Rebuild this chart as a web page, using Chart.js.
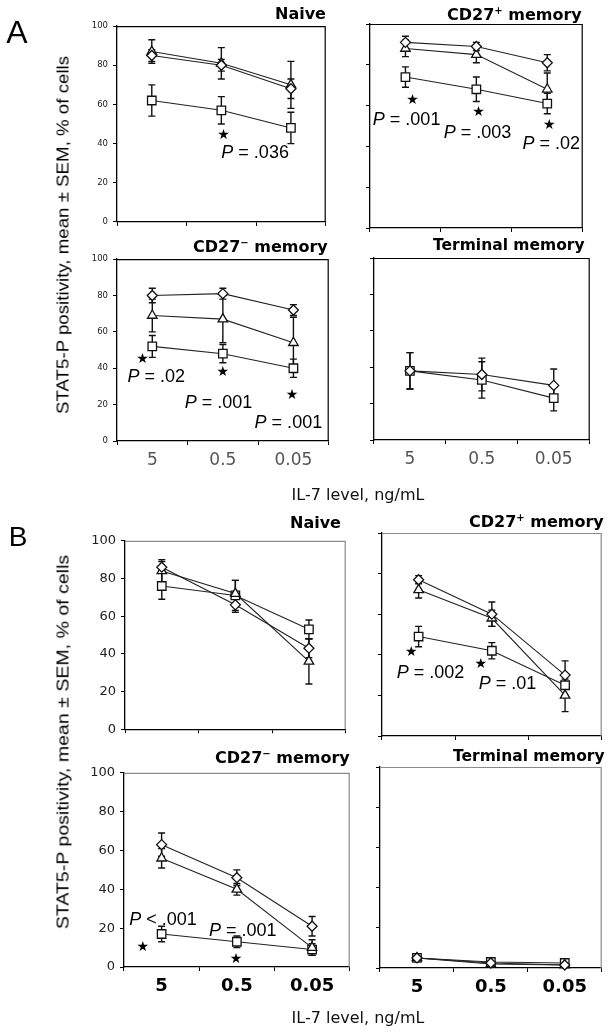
<!DOCTYPE html>
<html>
<head>
<meta charset="utf-8">
<script src="https://cdn.jsdelivr.net/npm/chart.js@4.4.0/dist/chart.umd.min.js"></script>
<style>
  body { margin: 0; background: #fff; }
  #page { position: relative; width: 616px; height: 1034px; overflow: hidden; background: #fff; }
  canvas { position: absolute; }
  .txt { position: absolute; white-space: nowrap; line-height: 1; color: #111; font-family: "DejaVu Sans", sans-serif; z-index: 5; will-change: transform; }
  .ytl { font-family: "Liberation Sans", Arial, sans-serif; font-size: 17px; color: #000; }
  .ttl { font-weight: bold; font-size: 16px; color: #000; }
  .ttl sup { font-size: 10px; vertical-align: 6px; }
</style>
</head>
<body>
<div id="page">
  <div class="txt" style="left:16.5px;top:31.5px;transform:translate(-50%,-50%);font-family:'Liberation Sans',Arial;font-size:32px;color:#000">A</div>
  <div class="txt" style="left:17.5px;top:537px;transform:translate(-50%,-50%);font-family:'Liberation Sans',Arial;font-size:28px;color:#000">B</div>

  <div class="txt ytl" style="left:63px;top:235px;transform:translate(-50%,-50%) rotate(-90deg) scaleX(1.1)">STAT5-P positivity, mean ± SEM, % of cells</div>
  <div class="txt ytl" style="left:63px;top:742px;transform:translate(-50%,-50%) rotate(-90deg) scaleX(1.15)">STAT5-P positivity, mean ± SEM, % of cells</div>
  <div class="txt" style="left:358px;top:495px;transform:translate(-50%,-50%);font-size:16px">IL-7 level, ng/mL</div>
  <div class="txt" style="left:358px;top:1018px;transform:translate(-50%,-50%);font-size:16px">IL-7 level, ng/mL</div>

  <div class="txt ttl" style="right:290px;top:6px">Naive</div>
  <div class="txt ttl" style="right:34px;top:6px">CD27<sup>+</sup> memory</div>
  <div class="txt ttl" style="right:288px;top:238px">CD27<sup>−</sup> memory</div>
  <div class="txt ttl" style="right:31px;top:238px;font-size:15.5px">Terminal memory</div>
  <div class="txt ttl" style="right:275px;top:515px">Naive</div>
  <div class="txt ttl" style="right:12px;top:513px">CD27<sup>+</sup> memory</div>
  <div class="txt ttl" style="right:266px;top:749px">CD27<sup>−</sup> memory</div>
  <div class="txt ttl" style="right:11px;top:749px;font-size:15.5px">Terminal memory</div>
</div>

<script>
// IL-7 dose categories
const doses = ['5', '0.5', '0.05'];
const yTicks = [0, 20, 40, 60, 80, 100];

// Panel A
const aNaiveDiamond = [85, 80, 68];
const aNaiveDiamondErr = [3, 3, 5];
const aNaiveTriangle = [87, 81, 70];
const aNaiveTriangleErr = [6, 8, 12];
const aNaiveSquare = [62, 57, 48];
const aNaiveSquareErr = [8, 7, 8];

const aPlusDiamond = [91, 89, 81];
const aPlusDiamondErr = [3, 2, 4];
const aPlusTriangle = [88, 85, 68];
const aPlusTriangleErr = [4, 4, 8];
const aPlusSquare = [74, 68, 61];
const aPlusSquareErr = [5, 6, 5];

const aMinusDiamond = [80, 81, 72];
const aMinusDiamondErr = [4, 3, 3];
const aMinusTriangle = [69, 67, 54];
const aMinusTriangleErr = [9, 13, 14];
const aMinusSquare = [52, 48, 40];
const aMinusSquareErr = [6, 5, 5];

const aTermDiamond = [38, 36, 30];
const aTermDiamondErr = [10, 9, 9];
const aTermSquare = [38, 33, 23];
const aTermSquareErr = [10, 10, 7];

// Panel B
const bNaiveDiamond = [86, 66, 43];
const bNaiveDiamondErr = [3, 4, 5];
const bNaiveTriangle = [84, 72, 36];
const bNaiveTriangleErr = [6, 7, 12];
const bNaiveSquare = [76, 71, 53];
const bNaiveSquareErr = [7, 8, 5];

const bPlusDiamond = [77, 60, 30];
const bPlusDiamondErr = [2, 6, 7];
const bPlusTriangle = [72, 58, 20];
const bPlusTriangleErr = [4, 4, 8];
const bPlusSquare = [49, 42, 25];
const bPlusSquareErr = [5, 4, 5];

const bMinusDiamond = [63, 46, 21];
const bMinusDiamondErr = [6, 4, 5];
const bMinusTriangle = [56, 40, 10];
const bMinusTriangleErr = [5, 3, 4];
const bMinusSquare = [17, 13, 9];
const bMinusSquareErr = [4, 3, 3];

const bTermDiamond = [5, 2.5, 1.5];
const bTermDiamondErr = [1, 1, 1];
const bTermTriangle = [5, 2, 1.5];
const bTermTriangleErr = [1, 1, 1];
const bTermSquare = [5, 3, 2.5];
const bTermSquareErr = [1, 1, 1];

// P values shown under the significant squares
const aNaivePvals = ['P = .036'];
const aPlusPvals = ['P = .001', 'P = .003', 'P = .02'];
const aMinusPvals = ['P = .02', 'P = .001', 'P = .001'];
const bPlusPvals = ['P = .002', 'P = .01'];
const bMinusPvals = ['P < .001', 'P = .001'];

// where stars / P labels sit, in (category index, value) units
const aNaiveNotePos = [{sx: 1.03, sy: 44, tx: 1.0, ty: 35}];
const aPlusNotePos = [
  {sx: 0.1, sy: 62.5, tx: -0.46, ty: 53},
  {sx: 1.03, sy: 56.5, tx: 0.54, ty: 46.5},
  {sx: 2.03, sy: 50.5, tx: 1.65, ty: 41}
];
const aMinusNotePos = [
  {sx: -0.14, sy: 45, tx: -0.35, ty: 35},
  {sx: 1.0, sy: 37.5, tx: 0.46, ty: 21},
  {sx: 1.98, sy: 25, tx: 1.45, ty: 10}
];
const bPlusNotePos = [
  {sx: -0.1, sy: 41, tx: -0.3, ty: 31},
  {sx: 0.85, sy: 35.5, tx: 0.82, ty: 25.5}
];
const bMinusNotePos = [
  {sx: -0.25, sy: 10, tx: -0.43, ty: 24},
  {sx: 0.99, sy: 4, tx: 0.63, ty: 18.5}
];

const PAD_T = 8, PAD_R = 4;

function series(diamond, dErr, triangle, tErr, square, sErr) {
  const out = [];
  if (diamond) out.push({data: diamond, err: dErr, pointStyle: 'rectRot', pointRadius: 5});
  if (triangle) out.push({data: triangle, err: tErr, pointStyle: 'triangle', pointRadius: 5.5});
  out.push({data: square, err: sErr, pointStyle: 'rect', pointRadius: 6});
  return out;
}

const errorBars = {
  id: 'errorBars',
  beforeDatasetsDraw(chart) {
    const ctx = chart.ctx, y = chart.scales.y;
    ctx.save();
    ctx.strokeStyle = '#111';
    ctx.lineWidth = 1.4;
    chart.data.datasets.forEach((ds, i) => {
      chart.getDatasetMeta(i).data.forEach((pt, j) => {
        const e = ds.err[j];
        const top = y.getPixelForValue(ds.data[j] + e);
        const bot = y.getPixelForValue(Math.max(ds.data[j] - e, 0));
        ctx.beginPath();
        ctx.moveTo(pt.x, top); ctx.lineTo(pt.x, bot);
        ctx.moveTo(pt.x - 3.5, top); ctx.lineTo(pt.x + 3.5, top);
        ctx.moveTo(pt.x - 3.5, bot); ctx.lineTo(pt.x + 3.5, bot);
        ctx.stroke();
      });
    });
    ctx.restore();
  }
};

function makeFrame(color) {
  return {
    id: 'frame',
    afterDraw(chart) {
      const a = chart.chartArea, ctx = chart.ctx;
      ctx.save();
      ctx.strokeStyle = color;
      ctx.lineWidth = 1.2;
      ctx.beginPath();
      ctx.moveTo(a.left, a.top + 0.5);
      ctx.lineTo(a.right - 0.5, a.top + 0.5);
      ctx.lineTo(a.right - 0.5, a.bottom);
      ctx.stroke();
      ctx.restore();
    }
  };
}

function makeNotes(labels, pos) {
  return {
    id: 'notes',
    afterDatasetsDraw(chart) {
      if (!labels) return;
      const ctx = chart.ctx, xs = chart.scales.x, ys = chart.scales.y;
      ctx.save();
      ctx.fillStyle = '#000';
      ctx.textBaseline = 'middle';
      labels.forEach((txt, i) => {
        const p = pos[i];
        ctx.textAlign = 'center';
        ctx.font = '14px "DejaVu Sans"';
        ctx.fillText('★', xs.getPixelForValue(p.sx), ys.getPixelForValue(p.sy));
        ctx.textAlign = 'left';
        let x = xs.getPixelForValue(p.tx);
        const y = ys.getPixelForValue(p.ty);
        ctx.font = 'italic 18px "Liberation Sans"';
        ctx.fillText(txt[0], x, y);
        x += ctx.measureText(txt[0]).width;
        ctx.font = '18px "Liberation Sans"';
        ctx.fillText(txt.slice(1), x, y);
      });
      ctx.restore();
    }
  };
}

const panels = [
  {rect: [117, 24, 329, 222], yLabels: 'a', xLabels: null, frame: '#000',
   sets: series(aNaiveDiamond, aNaiveDiamondErr, aNaiveTriangle, aNaiveTriangleErr, aNaiveSquare, aNaiveSquareErr),
   pvals: aNaivePvals, notePos: aNaiveNotePos},
  {rect: [370, 24, 586, 228], yLabels: null, xLabels: null, frame: '#000',
   sets: series(aPlusDiamond, aPlusDiamondErr, aPlusTriangle, aPlusTriangleErr, aPlusSquare, aPlusSquareErr),
   pvals: aPlusPvals, notePos: aPlusNotePos},
  {rect: [117, 257, 332, 441], yLabels: 'a', xLabels: 'a', frame: '#000',
   sets: series(aMinusDiamond, aMinusDiamondErr, aMinusTriangle, aMinusTriangleErr, aMinusSquare, aMinusSquareErr),
   pvals: aMinusPvals, notePos: aMinusNotePos},
  {rect: [374, 258, 593, 440], yLabels: null, xLabels: 'a', frame: '#000',
   sets: series(aTermDiamond, aTermDiamondErr, null, null, aTermSquare, aTermSquareErr)},
  {rect: [125, 536, 349, 732], yLabels: 'b', xLabels: null, frame: '#8a8a8a',
   sets: series(bNaiveDiamond, bNaiveDiamondErr, bNaiveTriangle, bNaiveTriangleErr, bNaiveSquare, bNaiveSquareErr)},
  {rect: [382, 533, 605, 736], yLabels: null, xLabels: null, frame: '#8a8a8a',
   sets: series(bPlusDiamond, bPlusDiamondErr, bPlusTriangle, bPlusTriangleErr, bPlusSquare, bPlusSquareErr),
   pvals: bPlusPvals, notePos: bPlusNotePos},
  {rect: [124, 768, 353, 967], yLabels: 'b', xLabels: 'b', frame: '#8a8a8a',
   sets: series(bMinusDiamond, bMinusDiamondErr, bMinusTriangle, bMinusTriangleErr, bMinusSquare, bMinusSquareErr),
   pvals: bMinusPvals, notePos: bMinusNotePos},
  {rect: [380, 767, 605, 968], yLabels: null, xLabels: 'b', frame: '#8a8a8a',
   sets: series(bTermDiamond, bTermDiamondErr, bTermTriangle, bTermTriangleErr, bTermSquare, bTermSquareErr)}
];

const page = document.getElementById('page');

panels.forEach(p => {
  const [L, T, R, B] = p.rect;
  const yW = p.yLabels ? 42 : 10;
  const xH = p.xLabels ? 36 : 10;
  const w = R - L + yW + PAD_R, h = B - T + PAD_T + xH;
  const cv = document.createElement('canvas');
  cv.width = w; cv.height = h;
  cv.style.width = w + 'px'; cv.style.height = h + 'px';
  cv.style.left = (L - yW) + 'px'; cv.style.top = (T - PAD_T) + 'px';
  page.appendChild(cv);

  const yFont = p.yLabels === 'a' ? {family: 'DejaVu Sans', size: 8.5} : {family: 'DejaVu Sans', size: 13};
  const xFont = p.xLabels === 'b' ? {family: 'DejaVu Sans', size: 18, weight: 'bold'} : {family: 'DejaVu Sans', size: 17};

  new Chart(cv, {
    type: 'line',
    data: {
      labels: doses,
      datasets: p.sets.map(s => ({
        data: s.data,
        err: s.err,
        pointStyle: s.pointStyle,
        pointRadius: s.pointRadius,
        pointBackgroundColor: '#fff',
        pointBorderColor: '#111',
        pointBorderWidth: 1.3,
        borderColor: '#222',
        borderWidth: 1.1,
        tension: 0,
        clip: false
      }))
    },
    options: {
      responsive: false,
      animation: false,
      devicePixelRatio: 1,
      layout: {padding: {top: PAD_T, right: PAD_R, left: 0, bottom: 0}},
      plugins: {legend: {display: false}, tooltip: {enabled: false}},
      scales: {
        x: {
          offset: true,
          grid: {offset: true, drawOnChartArea: false, drawTicks: true, tickLength: 4, color: '#000'},
          border: {color: '#000', width: 1.3},
          ticks: {display: !!p.xLabels, font: xFont, color: p.xLabels === 'b' ? '#000' : '#555', padding: 5, maxRotation: 0},
          afterFit: s => { s.height = xH; }
        },
        y: {
          min: 0, max: 100,
          afterBuildTicks: s => { s.ticks = yTicks.map(v => ({value: v})); },
          grid: {drawOnChartArea: false, drawTicks: true, tickLength: 4, color: '#000'},
          border: {color: '#000', width: 1.3},
          ticks: {display: !!p.yLabels, font: yFont, color: '#222', padding: 5},
          afterFit: s => { s.width = yW; }
        }
      }
    },
    plugins: [errorBars, makeFrame(p.frame), makeNotes(p.pvals, p.notePos)]
  });
});
</script>
</body>
</html>
